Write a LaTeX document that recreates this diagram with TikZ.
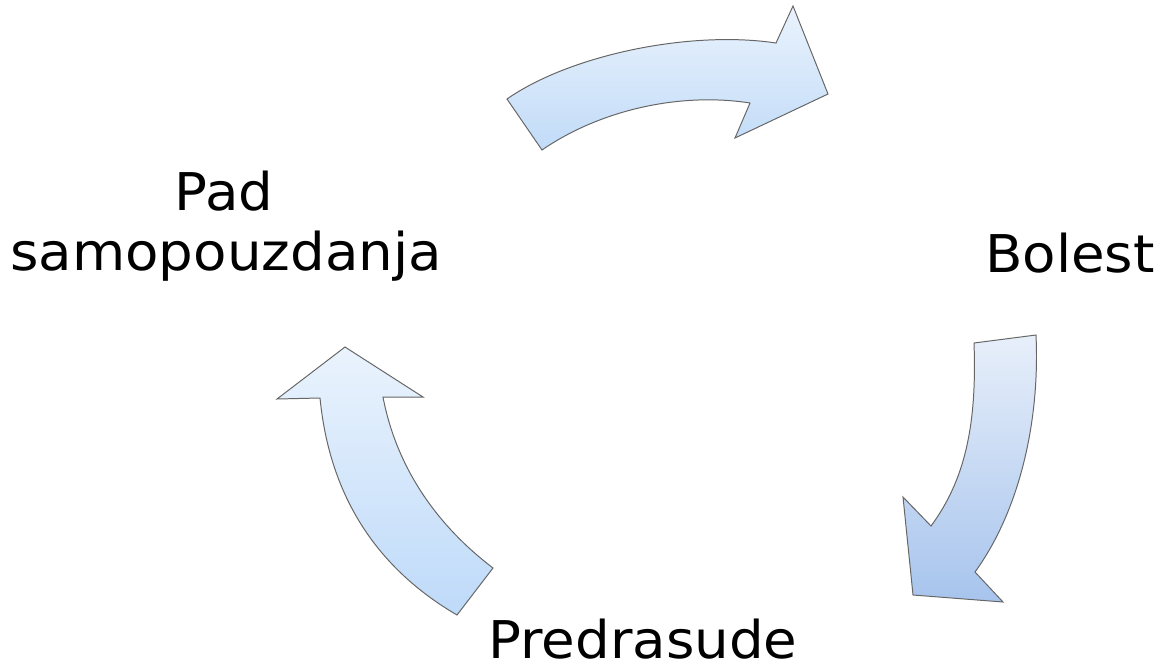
\documentclass[tikz,border=0pt]{standalone}
\usepackage{fontspec}
\setmainfont{DejaVu Sans}[FakeStretch=1.05]
\usetikzlibrary{positioning}

\begin{document}
\begin{tikzpicture}[
        x=0.025cm, y=-0.025cm,
        every node/.style={align=center, inner sep=0pt, font=\fontsize{37}{43}\selectfont},
        cyclearrow/.style={draw=black!60, line width=0.7pt, line join=miter}
        ]

        \useasboundingbox (0,0) rectangle (1160,667);

        % Nodes
        \node[anchor=base] (Bolest) at (1070,272) {Bolest};
        \node[anchor=base, text depth=0pt] (Predrasude) at (643,658) {Predrasude};
        \node[anchor=base] (Pad) at (224,210) {Pad};
        \node[anchor=base] (Samopouzdanje) at (226,270) {samopouzdanja};

        % Arrows of the cycle
        \shade[cyclearrow, top color={rgb,255:red,234;green,243;blue,253}, bottom color={rgb,255:red,193;green,219;blue,248}]
            (507,99) .. controls (570,55) and (690,30) .. (776,43)
            -- (793,6) -- (828,94) -- (735,138) -- (750,103)
            .. controls (680,92) and (600,110) .. (542,150) -- cycle;
        \shade[cyclearrow, top color={rgb,255:red,231;green,239;blue,250}, bottom color={rgb,255:red,167;green,196;blue,237}]
            (1036,335) .. controls (1040,420) and (1020,510) .. (975,572)
            -- (1003,602) -- (913,595) -- (903,497) -- (931,526)
            .. controls (965,480) and (977,425) .. (974,343) -- cycle;
        \shade[cyclearrow, top color={rgb,255:red,234;green,243;blue,253}, bottom color={rgb,255:red,190;green,218;blue,249}]
            (493,568) .. controls (430,520) and (395,460) .. (383,397)
            -- (423,397) -- (345,347) -- (277,399) -- (320,398)
            .. controls (330,500) and (380,570) .. (457,615) -- cycle;

\end{tikzpicture}
\end{document}
